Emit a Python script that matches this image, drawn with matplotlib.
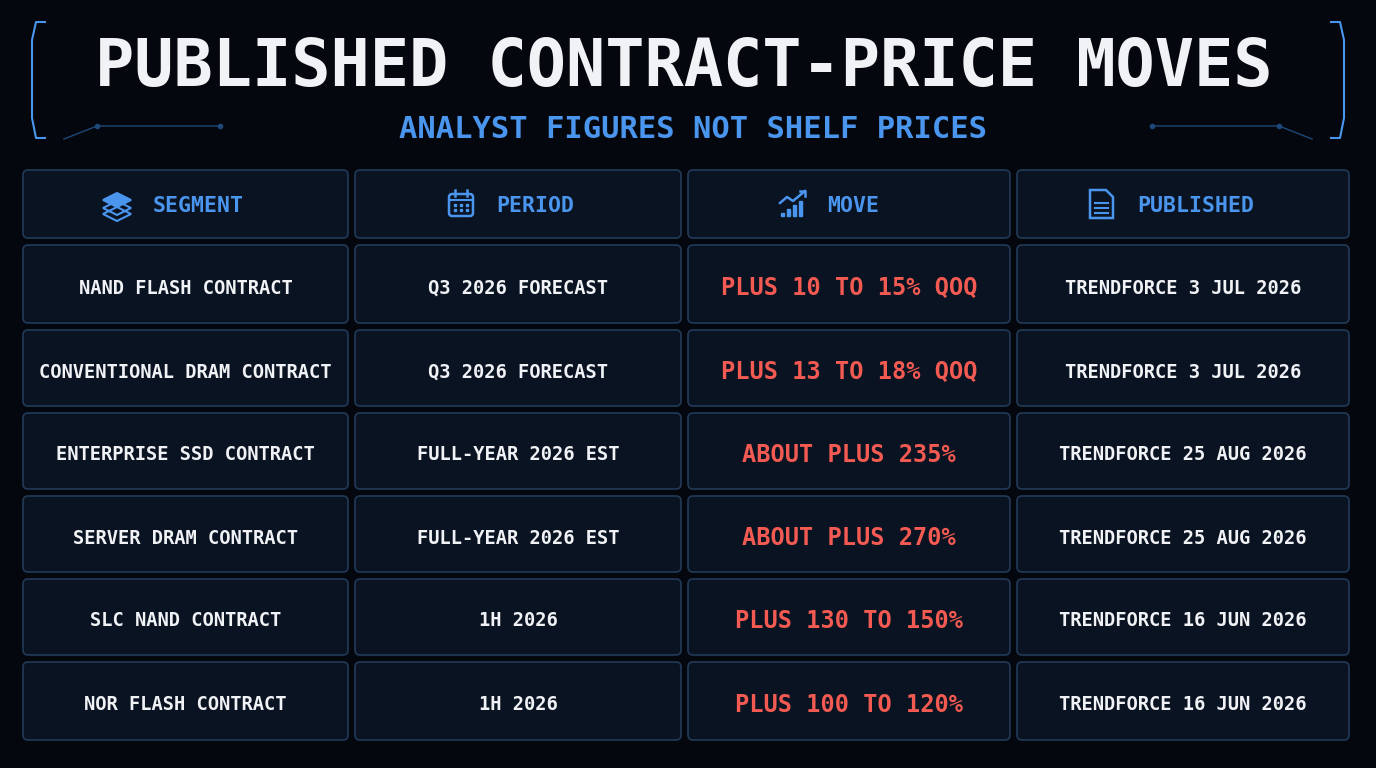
import matplotlib
matplotlib.use("Agg")
import matplotlib.pyplot as plt
from matplotlib.patches import FancyBboxPatch, Rectangle, Polygon

title = "PUBLISHED CONTRACT-PRICE MOVES"
subtitle = "ANALYST FIGURES NOT SHELF PRICES"
headers = ["SEGMENT", "PERIOD", "MOVE", "PUBLISHED"]
segments = ["NAND FLASH CONTRACT", "CONVENTIONAL DRAM CONTRACT", "ENTERPRISE SSD CONTRACT",
            "SERVER DRAM CONTRACT", "SLC NAND CONTRACT", "NOR FLASH CONTRACT"]
periods = ["Q3 2026 FORECAST", "Q3 2026 FORECAST", "FULL-YEAR 2026 EST",
           "FULL-YEAR 2026 EST", "1H 2026", "1H 2026"]
moves = ["PLUS 10 TO 15% QOQ", "PLUS 13 TO 18% QOQ", "ABOUT PLUS 235%",
         "ABOUT PLUS 270%", "PLUS 130 TO 150%", "PLUS 100 TO 120%"]
published = ["TRENDFORCE 3 JUL 2026", "TRENDFORCE 3 JUL 2026", "TRENDFORCE 25 AUG 2026",
             "TRENDFORCE 25 AUG 2026", "TRENDFORCE 16 JUN 2026", "TRENDFORCE 16 JUN 2026"]

BG = "#04070d"; FACE = "#0a1322"; EDGE = "#223a57"
BLUE = "#4a95ee"; RED = "#f25a52"; WHITE = "#f0f2f5"
MONO = "DejaVu Sans Mono"

fig = plt.figure(figsize=(13.76, 7.68), dpi=100, facecolor=BG)
ax = fig.add_axes([0, 0, 1, 1])
ax.set_xlim(0, 1376); ax.set_ylim(768, 0); ax.axis("off")
ax.set_facecolor(BG)

ax.text(684, 68, title, color=WHITE, fontsize=47, fontweight="bold", family=MONO,
        ha="center", va="center")
ax.text(693, 130, subtitle, color=BLUE, fontsize=22, fontweight="bold", family=MONO,
        ha="center", va="center")

# bracket decorations
ax.plot([45, 36, 32, 32, 36, 45], [22, 22, 40, 118, 138, 138], color=BLUE, lw=1.5)
ax.plot([1331, 1340, 1344, 1344, 1340, 1331], [22, 22, 40, 118, 138, 138], color=BLUE, lw=1.5)
ax.plot([64, 97, 220], [139, 126, 126], color="#1d4a7a", lw=1)
ax.plot([1312, 1279, 1152], [139, 126, 126], color="#1d4a7a", lw=1)
ax.plot([97, 220, 1152, 1279], [126, 126, 126, 126], "o", color="#1d4a7a", ms=3, lw=0)

cols = [(23, 348), (355, 681), (688, 1010), (1017, 1349)]
rows = [(170, 238), (245, 323), (330, 406), (413, 489), (496, 572), (579, 655), (662, 740)]

def cell(x0, x1, y0, y1):
    ax.add_patch(FancyBboxPatch((x0, y0), x1 - x0, y1 - y0, boxstyle="round,pad=0,rounding_size=5",
                                facecolor=FACE, edgecolor=EDGE, lw=1.2))

for (x0, x1) in cols:
    for (y0, y1) in rows:
        cell(x0, x1, y0, y1)

hy = (rows[0][0] + rows[0][1]) / 2
hx = [(153, 117), (496, 461), (827, 793), (1137, 1102)]
for (tx, ix), h in zip(hx, headers):
    ax.text(tx, hy + 2, h, color=BLUE, fontsize=15.5, fontweight="bold", family=MONO,
            ha="left", va="center")
# icon: layers
for dy, fill in [(-4, True), (4, False), (10, False)]:
    ax.add_patch(Polygon([[103, hy + dy], [117, hy + dy - 7], [131, hy + dy], [117, hy + dy + 7]],
                         closed=True, facecolor=BLUE if fill else "none", edgecolor=BLUE, lw=1.5))
# calendar
ax.add_patch(FancyBboxPatch((449, hy - 10), 24, 22, boxstyle="round,pad=0,rounding_size=3",
                            facecolor="none", edgecolor=BLUE, lw=1.8))
ax.plot([449, 473], [hy - 4, hy - 4], color=BLUE, lw=1.5)
ax.plot([455, 455], [hy - 14, hy - 8], color=BLUE, lw=1.8)
ax.plot([467, 467], [hy - 14, hy - 8], color=BLUE, lw=1.8)
for cx in [455, 461, 467]:
    for cy in [hy + 1, hy + 6]:
        ax.plot(cx, cy, "s", color=BLUE, ms=2)
# chart icon
for i, bh in enumerate([3, 7, 11, 15]):
    ax.add_patch(Rectangle((781 + i * 6, hy + 12 - bh), 3, bh, color=BLUE))
ax.plot([780, 787, 793, 805], [hy - 1, hy - 7, hy - 3, hy - 13], color=BLUE, lw=1.8)
ax.plot([800, 805, 805], [hy - 13, hy - 13, hy - 8], color=BLUE, lw=1.8)
# document icon
ax.add_patch(Polygon([[1090, hy - 14], [1106, hy - 14], [1113, hy - 7], [1113, hy + 14], [1090, hy + 14]],
                     closed=True, facecolor="none", edgecolor=BLUE, lw=1.8))
for ly in [hy - 1, hy + 4, hy + 9]:
    ax.plot([1095, 1108], [ly, ly], color=BLUE, lw=1.5)

for r in range(6):
    y0, y1 = rows[r + 1]
    yc = (y0 + y1) / 2 + 4
    vals = [segments[r], periods[r], moves[r], published[r]]
    for c, v in enumerate(vals):
        xc = (cols[c][0] + cols[c][1]) / 2
        if c == 2:
            ax.text(xc, yc, v, color=RED, fontsize=17, fontweight="bold", family=MONO,
                    ha="center", va="center")
        else:
            ax.text(xc, yc, v, color=WHITE, fontsize=13.5, fontweight="bold", family=MONO,
                    ha="center", va="center")

fig.savefig("out.png", dpi=100, facecolor=BG)
